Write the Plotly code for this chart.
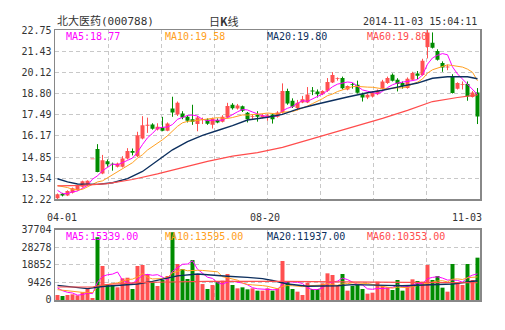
import plotly.graph_objects as go
import pandas as pd

# ---------------- data ----------------
title_name = "北大医药(000788)"
title_kind = "日<b>K</b>线"
title_time = "2014-11-03 15:04:11"
date_labels = ["04-01", "08-20", "11-03"]

opens = [12.28, 12.57, 12.45, 12.62, 12.80, 13.00, 13.10, 14.71, 15.35, 13.82,
         14.59, 14.42, 14.25, 14.25, 14.75, 15.23, 14.90, 16.00, 16.80, 16.87,
         16.56, 16.68, 16.48, 17.87, 17.50, 17.56, 17.35, 17.20, 16.90, 17.15,
         17.18, 16.85, 17.15, 17.05, 17.31, 18.10, 17.87, 18.00, 17.60, 17.35,
         17.50, 17.30, 17.29, 17.50, 17.35, 17.62, 18.95, 18.35, 17.90, 18.24,
         18.24, 18.97, 18.93, 18.76, 18.97, 19.49, 19.70, 19.76, 19.05, 19.38,
         19.35, 18.76, 18.55, 18.62, 18.76, 19.10, 19.45, 19.97, 19.66, 19.45,
         19.14, 19.66, 20.05, 19.95, 21.70, 21.96, 21.45, 20.69, 20.42, 19.86,
         19.10, 19.34, 19.39, 18.58, 18.87]
highs = [12.58, 12.62, 12.78, 12.95, 13.10, 13.38, 13.40, 14.71, 15.65, 14.98,
         14.70, 14.50, 14.50, 14.90, 15.40, 15.38, 16.42, 17.39, 17.30, 16.95,
         16.95, 17.35, 17.00, 18.60, 18.30, 17.70, 17.45, 18.10, 17.40, 17.30,
         17.25, 17.30, 17.25, 17.45, 18.22, 18.20, 18.15, 18.05, 17.65, 17.50,
         17.70, 17.55, 17.55, 17.55, 17.70, 19.43, 19.10, 18.50, 18.40, 18.65,
         19.20, 19.20, 19.05, 19.00, 19.76, 20.13, 19.80, 19.85, 19.30, 19.45,
         19.60, 18.85, 18.80, 18.95, 19.05, 19.65, 19.85, 20.05, 19.75, 19.55,
         19.80, 20.15, 20.20, 20.96, 22.75, 22.60, 21.55, 20.80, 20.60, 20.00,
         19.50, 19.55, 19.55, 18.95, 19.14]
lows = [12.22, 12.40, 12.42, 12.58, 12.75, 12.95, 13.05, 14.71, 13.90, 13.78,
        14.25, 14.00, 14.20, 14.20, 14.70, 14.95, 14.85, 15.95, 16.35, 16.55,
        16.50, 16.45, 16.45, 17.35, 17.40, 17.20, 17.00, 16.85, 16.45, 16.90,
        16.85, 16.62, 16.95, 17.00, 17.25, 17.80, 17.80, 17.65, 17.00, 17.20,
        17.05, 17.25, 17.10, 16.93, 17.30, 17.55, 18.10, 17.90, 17.75, 18.20,
        18.20, 18.70, 18.55, 18.70, 18.90, 19.45, 19.60, 19.05, 19.00, 19.10,
        18.80, 18.30, 18.45, 18.55, 18.70, 19.05, 19.40, 19.55, 18.93, 19.10,
        19.10, 19.60, 19.70, 19.90, 20.98, 21.60, 20.85, 20.15, 20.25, 18.80,
        19.05, 19.05, 18.35, 18.55, 16.90]
closes = [12.53, 12.45, 12.74, 12.90, 13.05, 13.34, 13.37, 14.71, 13.92, 14.65,
          14.40, 14.38, 14.45, 14.75, 15.23, 15.11, 16.21, 16.83, 16.85, 16.60,
          16.73, 16.48, 16.93, 17.62, 18.22, 17.31, 17.10, 17.05, 17.31, 17.18,
          16.92, 17.25, 17.00, 17.35, 18.02, 17.89, 18.05, 17.72, 17.20, 17.38,
          17.35, 17.45, 17.45, 17.20, 17.62, 18.95, 18.18, 17.97, 18.22, 18.45,
          18.74, 18.93, 18.76, 18.95, 19.51, 19.95, 19.74, 19.12, 19.26, 19.33,
          18.85, 18.55, 18.72, 18.85, 18.97, 19.55, 19.76, 19.59, 19.39, 19.25,
          19.72, 20.07, 19.90, 20.84, 22.60, 21.65, 20.90, 20.42, 20.48, 18.83,
          19.45, 19.36, 18.62, 18.87, 17.37]
volumes = [2690, 2150, 2690, 3050, 2510, 4130, 6280, 1080, 33800, 18300,
           8440, 8080, 6820, 11670, 12000, 5920, 18300, 18850, 14000, 9500,
           7540, 10770, 12920, 36500, 19390, 16700, 11300, 21500, 14000, 8600,
           5920, 8080, 9870, 10410, 14000, 8080, 6280, 6820, 5740, 6280,
           5030, 5030, 6280, 5030, 6280, 21000, 10230, 5920, 4490, 2690,
           9330, 5920, 5920, 8975, 14360, 13460, 8080, 14000, 5030, 7540,
           8080, 5920, 3410, 3950, 9870, 7720, 6820, 5390, 10770, 5030,
           7540, 11130, 10230, 9870, 18850, 10770, 12920, 6640, 4490, 19390,
           9330, 8080, 19390, 10770, 22800]

price_ticks = [12.22, 13.54, 14.85, 16.17, 17.49, 18.80, 20.12, 21.43, 22.75]
vol_ticks = [0, 9426, 18852, 28278, 37704]

# moving averages: warm-up values before the window is full
ma5_head = [12.78, 12.57, 12.57, 12.68]
ma10_head = [13.07, 13.03, 12.95, 12.84, 12.80, 12.84, 12.99, 13.15, 13.30]
ma20_idx = [0, 2, 4, 8, 11, 14, 17, 20, 23, 26, 29, 32, 35, 38, 42, 45, 48, 52,
            55, 58, 62, 65, 68, 72, 75, 78, 82, 84]
ma20_val = [13.50, 13.30, 13.17, 13.15, 13.25, 13.50, 13.95, 14.65, 15.30, 15.80,
            16.20, 16.50, 16.80, 17.15, 17.32, 17.50, 17.83, 18.15, 18.38, 18.58,
            18.85, 19.00, 19.20, 19.45, 19.75, 19.84, 19.84, 19.72]
ma60_idx = [0, 5, 10, 15, 20, 25, 30, 35, 40, 45, 50, 55, 60, 65, 70, 75, 80, 84]
ma60_val = [13.05, 13.08, 13.20, 13.45, 13.80, 14.20, 14.58, 14.90, 15.12, 15.45,
            15.90, 16.35, 16.80, 17.25, 17.75, 18.30, 18.55, 18.72]

vma5_head = [6460, 5030, 4130, 3770]
vma10_head = [5560, 5200, 4850, 4500, 4300, 4100, 4100, 3950, 7000]
vma20_idx = [0, 3, 6, 9, 13, 16, 19, 22, 24, 28, 31, 34, 38, 41, 43, 46, 50, 53,
             56, 59, 62, 66, 69, 72, 76, 79, 82, 84]
vma20_val = [7900, 6800, 6100, 7300, 8000, 8600, 10000, 11800, 13000, 14000,
             13600, 12800, 12200, 11500, 10500, 8600, 7400, 7400, 7700, 8300,
             8300, 7900, 7700, 7900, 8300, 8600, 9700, 10400]
vma60_idx = [0, 7, 9, 16, 22, 30, 45, 55, 70, 84]
vma60_val = [7000, 7000, 8200, 9400, 9700, 10000, 10000, 9700, 9500, 9300]

price_ma_labels = ["MA5:18.77", "MA10:19.58", "MA20:19.80", "MA60:19.80"]
vol_ma_labels = ["MA5:15339.00", "MA10:13595.00", "MA20:11937.00", "MA60:10353.00"]

# ---------------- styles ----------------
UP = "#ff5050"
DOWN = "#008c00"
MA_COLORS = ["#ff00ff", "#ffa020", "#0c2f5e", "#ff4d4d"]
GRID = "#c8c8c8"
BORDER = "#888888"
MONO = "DejaVu Sans Mono, Liberation Mono, monospace"
TXT = "#333333"

n = len(closes)
idx = list(range(n))
up = [c >= o for o, c in zip(opens, closes)]
colors = [UP if u else DOWN for u in up]


def rolling_with_head(values, window, head):
    s = pd.Series(values, dtype=float).rolling(window).mean().tolist()
    return head + s[len(head):]


ma5 = rolling_with_head(closes, 5, ma5_head)
ma10 = rolling_with_head(closes, 10, ma10_head)
vma5 = rolling_with_head(volumes, 5, vma5_head)
vma10 = rolling_with_head(volumes, 10, vma10_head)

fig = go.Figure()

# wicks
for flag, col in [(True, UP), (False, DOWN)]:
    wx, wy = [], []
    for i in idx:
        if up[i] == flag:
            wx += [i, i, None]
            wy += [lows[i], highs[i], None]
    fig.add_trace(go.Scatter(x=wx, y=wy, mode="lines", line=dict(color=col, width=1),
                             xaxis="x", yaxis="y", hoverinfo="skip", showlegend=False))

# bodies
bases = [min(o, c) for o, c in zip(opens, closes)]
heights = [max(abs(c - o), 0.05) for o, c in zip(opens, closes)]
fig.add_trace(go.Bar(x=idx, y=heights, base=bases, width=0.8,
                     marker=dict(color=colors, line=dict(width=0)),
                     xaxis="x", yaxis="y", hoverinfo="skip", showlegend=False))

# price MAs
price_lines = [(idx, ma5), (idx, ma10), (ma20_idx, ma20_val), (ma60_idx, ma60_val)]
for (lx, ly), col, w in zip(price_lines, MA_COLORS, [1, 1, 1.4, 1.2]):
    fig.add_trace(go.Scatter(x=lx, y=ly, mode="lines", line=dict(color=col, width=w),
                             xaxis="x", yaxis="y", hoverinfo="skip", showlegend=False))

# volume bars
fig.add_trace(go.Bar(x=idx, y=volumes, width=0.8,
                     marker=dict(color=colors, line=dict(width=0)),
                     xaxis="x2", yaxis="y2", hoverinfo="skip", showlegend=False))

vol_lines = [(idx, vma5), (idx, vma10), (vma20_idx, vma20_val), (vma60_idx, vma60_val)]
for (lx, ly), col, w in zip(vol_lines, MA_COLORS, [1, 1, 1.4, 1.2]):
    fig.add_trace(go.Scatter(x=lx, y=ly, mode="lines", line=dict(color=col, width=w),
                             xaxis="x2", yaxis="y2", hoverinfo="skip", showlegend=False))

grid_x = [-0.5 + n * k / 8 for k in range(1, 8)]

xcommon = dict(range=[-0.5, n - 0.5], tickvals=grid_x, showticklabels=False,
               showgrid=True, gridcolor=GRID, griddash="4px,3px", gridwidth=1,
               zeroline=False, showline=True, mirror=True, linecolor=BORDER,
               linewidth=1.5, ticks="", fixedrange=True)
ycommon = dict(showgrid=True, gridcolor=GRID, griddash="4px,3px", gridwidth=1,
               zeroline=False, showline=True, mirror=True, linecolor=BORDER,
               linewidth=1.5, ticks="", tickfont=dict(family=MONO, size=10, color=TXT),
               fixedrange=True)

fig.update_layout(
    width=505, height=330,
    margin=dict(l=55, r=25, t=30, b=30),
    paper_bgcolor="white", plot_bgcolor="white",
    showlegend=False, barmode="overlay", hovermode=False,
    xaxis=dict(domain=[0, 1], anchor="y", **xcommon),
    yaxis=dict(domain=[0.373, 1], anchor="x", range=[price_ticks[0], price_ticks[-1]],
               tickvals=price_ticks, ticktext=[f"{v:.2f}" for v in price_ticks], **ycommon),
    xaxis2=dict(domain=[0, 1], anchor="y2", **xcommon),
    yaxis2=dict(domain=[0, 0.2593], anchor="x2", range=[vol_ticks[0], vol_ticks[-1]],
                tickvals=vol_ticks, ticktext=[str(v) for v in vol_ticks], **ycommon),
)

ann = []
# header
ann.append(dict(text=title_name, x=0, y=1.0315, xref="paper", yref="paper",
                xanchor="left", yanchor="middle", showarrow=False,
                font=dict(family="DejaVu Sans Mono, Noto Sans CJK SC", size=11, color=TXT)))
ann.append(dict(text=title_kind, x=0.3976, y=1.0315, xref="paper", yref="paper",
                xanchor="center", yanchor="middle", showarrow=False,
                font=dict(family="Noto Sans CJK SC", size=11, color=TXT)))
ann.append(dict(text=title_time, x=0.9976, y=1.0315, xref="paper", yref="paper",
                xanchor="right", yanchor="middle", showarrow=False,
                font=dict(family=MONO, size=10, color=TXT)))
# MA labels
label_x = [0.0219, 0.2537, 0.4941, 0.7294]
for lx, txt, col in zip(label_x, price_ma_labels, MA_COLORS):
    ann.append(dict(text=txt, x=lx, y=0.9752, xref="paper", yref="paper",
                    xanchor="left", yanchor="middle", showarrow=False,
                    font=dict(family=MONO, size=10, color=col)))
for lx, txt, col in zip(label_x, vol_ma_labels, MA_COLORS):
    ann.append(dict(text=txt, x=lx, y=0.2352, xref="paper", yref="paper",
                    xanchor="left", yanchor="middle", showarrow=False,
                    font=dict(family=MONO, size=10, color=col)))
# date labels
for txt, px, anchor in zip(date_labels, [-0.0235, 0.4934, 1.0094], ["left", "center", "right"]):
    ann.append(dict(text=txt, x=px, y=0.3074, xref="paper", yref="paper",
                    xanchor=anchor, yanchor="middle", showarrow=False,
                    font=dict(family=MONO, size=10, color=TXT)))
fig.update_layout(annotations=ann)

fig.write_html("out.html", config={"displayModeBar": False, "staticPlot": True})
